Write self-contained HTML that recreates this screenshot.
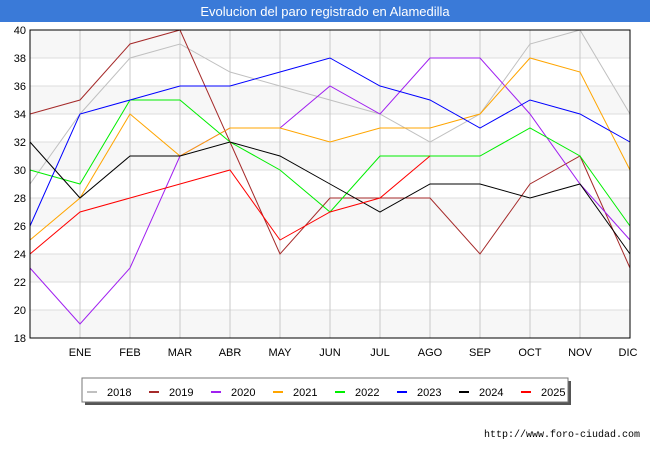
<!DOCTYPE html>
<html><head><meta charset="utf-8"><style>
body{margin:0;width:650px;height:450px;background:#fff;font-family:"Liberation Sans","DejaVu Sans",sans-serif;overflow:hidden}
</style></head><body>
<svg width="650" height="450" xmlns="http://www.w3.org/2000/svg" id="chart">
<rect x="0" y="0" width="650" height="22" fill="#3a7ad8"/>
<text x="325" y="16" text-anchor="middle" fill="#fff" font-size="13" font-family="Liberation Sans, DejaVu Sans, sans-serif">Evolucion del paro registrado en Alamedilla</text>
<g id="bands"></g><g id="grid"></g><g id="ylabels"></g><g id="xlabels"></g><g id="series"></g>
<rect x="30" y="30" width="600" height="308" fill="none" stroke="#000" stroke-width="1"/>
<rect x="85" y="381" width="486" height="24" fill="#555"/>
<rect x="82" y="378" width="486" height="24" fill="#fff" stroke="#777"/>
<g id="legend"></g>
<text x="640" y="437" text-anchor="end" font-size="10" fill="#000" font-family="Liberation Mono, DejaVu Sans Mono, monospace">http://www.foro-ciudad.com</text>
</svg>
<script>
const categories=["","ENE","FEB","MAR","ABR","MAY","JUN","JUL","AGO","SEP","OCT","NOV","DIC"];
const yTicks=[18,20,22,24,26,28,30,32,34,36,38,40];
const seriesNames=["2018","2019","2020","2021","2022","2023","2024","2025"];
const seriesColors=["#c0c0c0","#a52a2a","#a020f0","#ffa500","#00ee00","#0000ff","#000000","#ff0000"];
const s2018=[29,34,38,39,37,36,35,34,32,34,39,40,34];
const s2019=[34,35,39,40,32,24,28,28,28,24,29,31,23];
const s2020=[23,19,23,31,33,33,36,34,38,38,34,29,25];
const s2021=[25,28,34,31,33,33,32,33,33,34,38,37,30];
const s2022=[30,29,35,35,32,30,27,31,31,31,33,31,26];
const s2023=[26,34,35,36,36,37,38,36,35,33,35,34,32];
const s2024=[32,28,31,31,32,31,29,27,29,29,28,29,24];
const s2025=[24,27,28,29,30,25,27,28,31];
const allSeries=[s2018,s2019,s2020,s2021,s2022,s2023,s2024,s2025];
const NS="http://www.w3.org/2000/svg";
const L=30,R=630,T=30,B=338,ymin=18,ymax=40;
const xs=i=>L+i*(R-L)/(categories.length-1);
const ys=v=>B-(v-ymin)*(B-T)/(ymax-ymin);
function mk(tag,attrs,parent){const e=document.createElementNS(NS,tag);for(const k in attrs)e.setAttribute(k,attrs[k]);document.getElementById(parent).appendChild(e);return e;}
for(let i=0;i<yTicks.length-1;i++){
 if(i%2===0){const b=mk('rect',{x:L,y:ys(yTicks[i+1]),width:R-L,height:ys(yTicks[i])-ys(yTicks[i+1]),fill:'#f7f7f7'},'bands');
 
 }
}
yTicks.forEach(v=>{
 const g=mk('line',{x1:L,x2:R,y1:ys(v),y2:ys(v),stroke:'#ddd'},'grid');
 
 
 const t=mk('text',{x:L-4,y:ys(v)+4,'text-anchor':'end','font-size':'11',fill:'#000'},'ylabels');t.textContent=v;
 
 
});
categories.forEach((c,i)=>{
 if(i>0){const g=mk('line',{x1:xs(i),x2:xs(i),y1:T,y2:B,stroke:'#c8c8c8'},'grid');
 
 }
 const t=mk('text',{x:xs(i)-(i===categories.length-1?2:0),y:356,'text-anchor':'middle','font-size':'11',fill:'#000'},'xlabels');t.textContent=c;
 
 
});
allSeries.forEach((s,k)=>{
 const p=mk('polyline',{points:s.map((v,i)=>xs(i)+','+ys(v)).join(' '),fill:'none',stroke:seriesColors[k],'stroke-width':'1'},'series');
 
 
 const lx=87+k*62;
 const sw=mk('line',{x1:lx,x2:lx+10,y1:392,y2:392,stroke:seriesColors[k],'stroke-width':'2'},'legend');
 
 
 const t=mk('text',{x:lx+20,y:396,'font-size':'11',fill:'#000'},'legend');t.textContent=seriesNames[k];
 
 
});
</script>
</body></html>
